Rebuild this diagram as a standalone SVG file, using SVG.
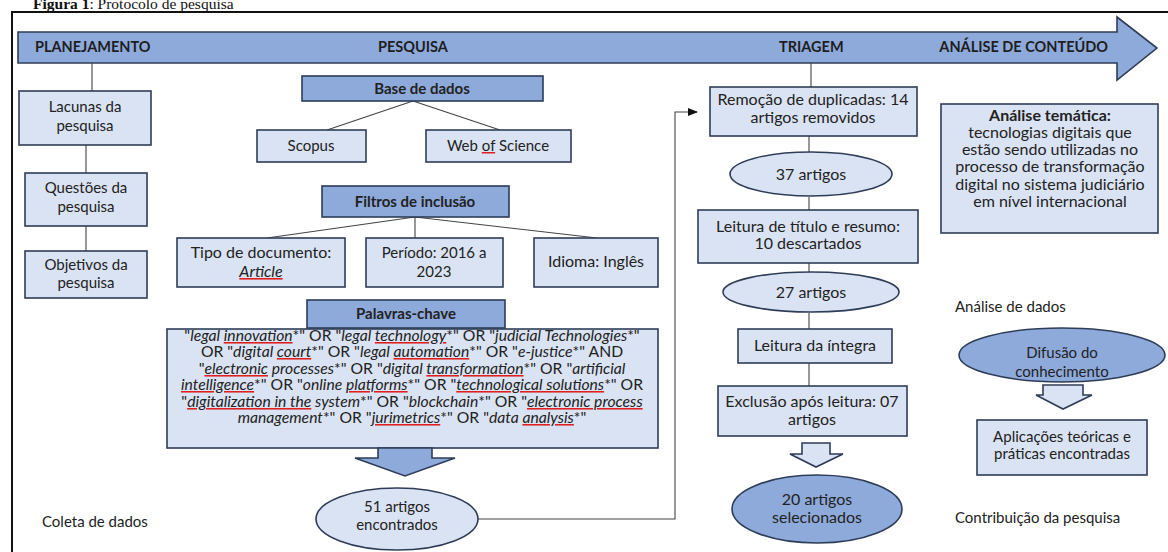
<svg xmlns="http://www.w3.org/2000/svg" width="1168" height="552" viewBox="0 0 1168 552">
<style>
text{font-family:Lato,"Open Sans","Liberation Sans",sans-serif;font-size:15px;fill:#222;}
.c{text-anchor:middle;}
.b{font-weight:bold;}
.m{font-size:16px;}
.ban{font-weight:bold;font-size:14.5px;fill:#1e1e1e;}
.hd{fill:#8eaadb;stroke:#2e3d57;stroke-width:1.6;}
.lt{fill:#dae3f3;stroke:#2e3d57;stroke-width:1.6;}
.ln{stroke:#444;stroke-width:1.1;fill:none;}
.i{font-style:italic;}
.w{text-decoration:underline;text-decoration-style:wavy;fill:#e02020;}
.k{fill:#222;}
.kw text{font-size:15.7px;}
</style>
<defs>
<marker id="ah" markerWidth="10" markerHeight="8" refX="9" refY="4" orient="auto" markerUnits="userSpaceOnUse">
<path d="M0,0 L10,4 L0,8 Z" fill="#111"/>
</marker>
</defs>
<rect width="1168" height="552" fill="#fff"/>
<text x="33" y="9" style="font-family:'Liberation Serif',serif;font-size:15.5px;fill:#111"><tspan font-weight="bold">Figura 1</tspan>: Protocolo de pesquisa</text>
<path d="M12,552 V12 H1168" fill="none" stroke="#111" stroke-width="2"/>

<g id="banner">
<path d="M18,32 H1117 V17 L1157,48 L1117,80 V63 H18 Z" class="hd"/>
<text x="35" y="52" class="ban">PLANEJAMENTO</text>
<text x="378" y="52" class="ban">PESQUISA</text>
<text x="779" y="52" class="ban">TRIAGEM</text>
<text x="1108" y="52" class="ban" text-anchor="end">ANÁLISE DE CONTEÚDO</text>
</g>

<g id="connectors">
<path class="ln" d="M92,63 V91 M86,145 V173 M86,226 V251"/>
<path class="ln" d="M413,101 L327,130 M413,101 L500,130"/>
<path class="ln" d="M415,217 L267,238 M415,217 V238 M415,217 L597,238"/>
<path class="ln" d="M811,63 V87 M809,136 V152 M809,197 V210 M809,263 V272 M809,313 V329 M809,363 V386"/>
<path class="ln" d="M478,519 H675 V112 H697" marker-end="url(#ah)"/>
</g>

<g id="lacunas"><rect x="19" y="91" width="132" height="54" class="lt"/>
<text x="85" y="112" class="c">Lacunas da</text><text x="85" y="131" class="c">pesquisa</text></g>
<g id="questoes"><rect x="25" y="173" width="122" height="53" class="lt"/>
<text x="86" y="193" class="c">Questões da</text><text x="86" y="212" class="c">pesquisa</text></g>
<g id="objetivos"><rect x="25" y="251" width="122" height="47" class="lt"/>
<text x="86" y="270" class="c">Objetivos da</text><text x="86" y="288" class="c">pesquisa</text></g>
<g id="coleta"><text x="42" y="527">Coleta de dados</text></g>

<g id="base"><rect x="302" y="76" width="241" height="25" class="hd"/>
<text x="422" y="94" class="c b">Base de dados</text></g>
<g id="scopus"><rect x="257" y="130" width="109" height="32" class="lt"/>
<text x="311" y="151" class="c">Scopus</text></g>
<g id="wos"><rect x="426" y="130" width="145" height="32" class="lt"/>
<text x="498" y="151" class="c">Web <tspan class="w"><tspan class="k">of</tspan></tspan> Science</text></g>

<g id="filtros"><rect x="322" y="186" width="187" height="31" class="hd"/>
<text x="415" y="207" class="c b">Filtros de inclusão</text></g>
<g id="tipo"><rect x="177" y="238" width="168" height="49" class="lt"/>
<text x="261" y="258" class="c m">Tipo de documento:</text><text x="261" y="277" class="c m"><tspan class="i w"><tspan class="k">Article</tspan></tspan></text></g>
<g id="periodo"><rect x="366" y="238" width="137" height="49" class="lt"/>
<text x="434" y="258" class="c">Período: 2016 a</text><text x="434" y="277" class="c">2023</text></g>
<g id="idioma"><rect x="534" y="238" width="124" height="49" class="lt"/>
<text x="596" y="267" class="c m">Idioma: Inglês</text></g>

<g id="palavras" class="kw">
<rect x="167" y="329" width="491" height="119" class="lt"/>
<rect x="307" y="300" width="198" height="28" class="hd"/>
<text x="406" y="319" class="c b" style="font-size:15px">Palavras-chave</text>
<text x="412" y="341" class="c">"<tspan class="i">legal <tspan class="w"><tspan class="k">innovation</tspan></tspan></tspan>*" OR "<tspan class="i">legal <tspan class="w"><tspan class="k">technology</tspan></tspan></tspan>*" OR "<tspan class="i">judicial Technologies</tspan>*"</text>
<text x="412" y="357" class="c">OR "<tspan class="i">digital <tspan class="w"><tspan class="k">court</tspan></tspan></tspan>*" OR "<tspan class="i">legal <tspan class="w"><tspan class="k">automation</tspan></tspan></tspan>*" OR "<tspan class="i">e-justice</tspan>*" AND</text>
<text x="412" y="374" class="c">"<tspan class="i"><tspan class="w"><tspan class="k">electronic</tspan></tspan> processes</tspan>*" OR "<tspan class="i">digital <tspan class="w"><tspan class="k">transformation</tspan></tspan></tspan>*" OR "<tspan class="i">artificial</tspan></text>
<text x="412" y="390" class="c"><tspan class="i w"><tspan class="k">intelligence</tspan></tspan>*" OR "<tspan class="i">online <tspan class="w"><tspan class="k">platforms</tspan></tspan></tspan>*" OR "<tspan class="i w"><tspan class="k">technological solutions</tspan></tspan>*" OR</text>
<text x="412" y="407" class="c">"<tspan class="i"><tspan class="w"><tspan class="k">digitalization in the</tspan></tspan> system</tspan>*" OR "<tspan class="i">blockchain</tspan>*" OR "<tspan class="i w"><tspan class="k">electronic process</tspan></tspan></text>
<text x="412" y="423" class="c"><tspan class="i">management</tspan>*" OR "<tspan class="i w"><tspan class="k">jurimetrics</tspan></tspan>*" OR "<tspan class="i">data <tspan class="w"><tspan class="k">analysis</tspan></tspan></tspan>*"</text>
</g>
<g id="seta1"><path d="M378,448 H432 V458 H455 L405,476 L355,458 H378 Z" class="hd"/></g>
<g id="art51"><ellipse cx="397" cy="519" rx="81" ry="31" class="lt"/>
<text x="397" y="512" class="c">51 artigos</text><text x="397" y="530" class="c">encontrados</text></g>

<g id="remocao"><rect x="710" y="87" width="207" height="49" class="lt"/>
<text x="813" y="105" class="c m">Remoção de duplicadas: 14</text><text x="813" y="123" class="c m">artigos removidos</text></g>
<g id="art37"><ellipse cx="811" cy="174" rx="81" ry="22" class="lt"/>
<text x="811" y="180" class="c m">37 artigos</text></g>
<g id="leitura1"><rect x="698" y="210" width="220" height="53" class="lt"/>
<text x="808" y="232" class="c m">Leitura de título e resumo:</text><text x="808" y="249" class="c m">10 descartados</text></g>
<g id="art27"><ellipse cx="811" cy="292" rx="88" ry="20" class="lt"/>
<text x="811" y="298" class="c m">27 artigos</text></g>
<g id="leitura2"><rect x="738" y="329" width="154" height="34" class="lt"/>
<text x="815" y="351" class="c m">Leitura da íntegra</text></g>
<g id="exclusao"><rect x="718" y="386" width="189" height="50" class="lt"/>
<text x="812" y="407" class="c m">Exclusão após leitura: 07</text><text x="812" y="425" class="c m">artigos</text></g>
<g id="seta2"><path d="M802,443 H830 V454 H843 L816,467 L790,454 H802 Z" class="lt"/></g>
<g id="art20"><ellipse cx="817" cy="509" rx="85" ry="34" class="hd"/>
<text x="817" y="505" class="c m">20 artigos</text><text x="817" y="523" class="c m">selecionados</text></g>

<g id="tematica"><rect x="941" y="104" width="217" height="129" class="lt"/>
<text x="1050" y="121" class="c b m">Análise temática:</text>
<text x="1050" y="138" class="c m">tecnologias digitais que</text>
<text x="1050" y="155" class="c m">estão sendo utilizadas no</text>
<text x="1050" y="172" class="c m">processo de transformação</text>
<text x="1050" y="190" class="c m">digital no sistema judiciário</text>
<text x="1050" y="207" class="c m">em nível internacional</text></g>
<g id="analise"><text x="955" y="312">Análise de dados</text></g>
<g id="difusao"><ellipse cx="1062" cy="355" rx="103" ry="27" class="hd"/>
<text x="1062" y="358" class="c">Difusão do</text><text x="1062" y="377" class="c">conhecimento</text></g>
<g id="seta3"><path d="M1043,385 H1083 V395 H1092 L1063,409 L1036,395 H1043 Z" class="lt"/></g>
<g id="aplicacoes"><rect x="977" y="420" width="170" height="55" class="lt"/>
<text x="1062" y="442" class="c">Aplicações teóricas e</text><text x="1062" y="459" class="c">práticas encontradas</text></g>
<g id="contribuicao"><text x="955" y="523">Contribuição da pesquisa</text></g>
</svg>
